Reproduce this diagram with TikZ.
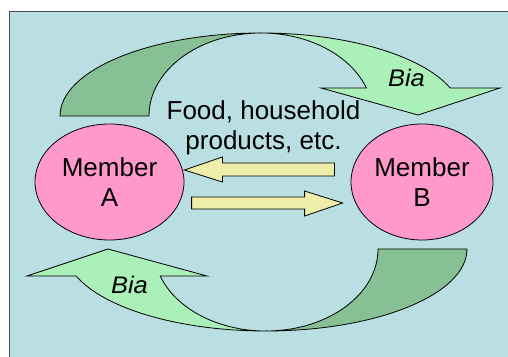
\documentclass[tikz,border=0pt]{standalone}
\usepackage{fontspec}
\setmainfont{Liberation Sans}
\usetikzlibrary{shapes.geometric}
\definecolor{bluebg}{RGB}{186,223,226}
\definecolor{memberpink}{RGB}{255,153,204}
\definecolor{goodsyellow}{RGB}{238,238,170}
\definecolor{biadark}{RGB}{136,192,150}
\definecolor{bialight}{RGB}{172,240,185}
\begin{document}
\begin{tikzpicture}[x=1pt, y=1pt, line width=0.8pt]
\tikzstyle{member}=[ellipse, draw, fill=memberpink, minimum height=116pt, inner sep=0pt, align=center, font=\fontsize{26}{30}\selectfont]
\tikzstyle{goods}=[draw, fill=goodsyellow]
\tikzstyle{biaback}=[draw, fill=biadark]
\tikzstyle{biafront}=[draw, fill=bialight]
\tikzstyle{biatext}=[font=\fontsize{24}{28}\selectfont\itshape, xscale=1.06]
\useasboundingbox (0,0) rectangle (508,356);
\clip (0,0) rectangle (508,356);
\draw[fill=bluebg, draw=black!70, line width=1.5pt] (9.5,344.5) rectangle (520,-10);
% Bia going from A over to B
\draw[biaback] (60,240) arc[start angle=180, end angle=90, x radius=201, y radius=83]
  arc[start angle=90, end angle=180, x radius=112, y radius=83] -- cycle;
\draw[biafront] (261,323) arc[start angle=90, end angle=19.7, x radius=201, y radius=83]
  -- (500,268) -- (418,241) -- (321,268) -- (366.4,268)
  arc[start angle=19.7, end angle=90, x radius=112, y radius=83] -- cycle;
% Bia going from B back to A
\draw[biaback] (467,107) arc[start angle=0, end angle=-90, x radius=201, y radius=82]
  arc[start angle=-90, end angle=0, x radius=112, y radius=82] -- cycle;
\draw[biafront] (266,25) arc[start angle=270, end angle=199.2, x radius=201, y radius=82]
  -- (27,80) -- (108,107) -- (207,80) -- (160.2,80)
  arc[start angle=199.2, end angle=270, x radius=112, y radius=82] -- cycle;
\node[biatext] (biatop) at (406.5,278) {Bia};
\node[biatext] (biabot) at (129.5,71) {Bia};
\node[member, minimum width=149pt] (ma) at (109.5,174) {Member\\A};
\node[member, minimum width=142pt] (mb) at (422,174) {Member\\B};
\node[align=center, font=\fontsize{26}{30}\selectfont] (goods) at (263.5,228) {Food, household\\products, etc.};
% goods passed between the members
\draw[goods] ([yshift=12pt]ma.east) -- ++(38,13) -- ++(0,-6) -- ++(112,0) -- ++(0,-13)
  -- ++(-112,0) -- ++(0,-6) -- cycle;
\draw[goods] ([shift={(-8,-21)}]mb.west) -- ++(-38,12) -- ++(0,-6) -- ++(-113,0) -- ++(0,-12)
  -- ++(113,0) -- ++(0,-7) -- cycle;
\end{tikzpicture}
\end{document}
